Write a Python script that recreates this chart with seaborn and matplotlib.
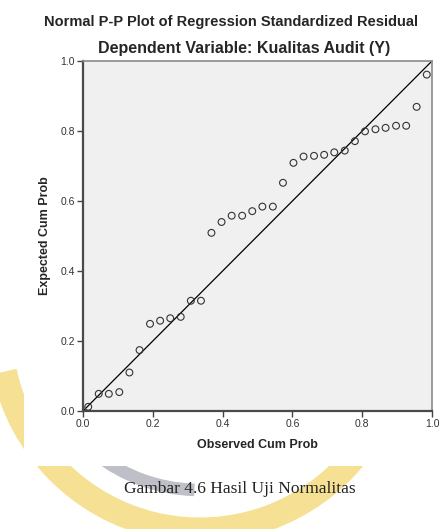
import numpy as np
import pandas as pd
import matplotlib
matplotlib.use('Agg')
import matplotlib.pyplot as plt
from matplotlib.patches import Rectangle, Arc
import seaborn as sns

# 資料：P-P 點 (observed, expected)
observed_cum_prob = [0.015, 0.045, 0.074, 0.104, 0.133, 0.162, 0.192, 0.221,
                     0.250, 0.280, 0.309, 0.338, 0.368, 0.397, 0.426, 0.456,
                     0.485, 0.514, 0.544, 0.573, 0.603, 0.632, 0.662, 0.691,
                     0.720, 0.750, 0.779, 0.808, 0.838, 0.867, 0.897, 0.926,
                     0.956, 0.985]
expected_cum_prob = [0.012, 0.049, 0.049, 0.054, 0.110, 0.174, 0.249, 0.258,
                     0.265, 0.269, 0.315, 0.315, 0.509, 0.540, 0.558, 0.558,
                     0.571, 0.584, 0.584, 0.652, 0.709, 0.727, 0.729, 0.732,
                     0.739, 0.744, 0.771, 0.799, 0.805, 0.809, 0.815, 0.815,
                     0.869, 0.961]
diag = [0.0, 1.0]
ticks = [0.0, 0.2, 0.4, 0.6, 0.8, 1.0]
tick_labels = ['0.0', '0.2', '0.4', '0.6', '0.8', '1.0']

df = pd.DataFrame({'observed': observed_cum_prob, 'expected': expected_cum_prob})

sns.set_style('white')
plt.rcParams['font.family'] = ['Liberation Sans', 'DejaVu Sans']

W, H = 442, 529
fig = plt.figure(figsize=(W / 100, H / 100), dpi=100)
fig.patch.set_facecolor('white')

# 背景浮水印 (黃色彎月 + 灰色陰影)
ax_bg = fig.add_axes([0, 0, 1, 1], zorder=0)
ax_bg.set_xlim(0, W)
ax_bg.set_ylim(H, 0)
ax_bg.axis('off')
ax_bg.add_patch(Arc((200, 330), 400, 400, theta1=38, theta2=168,
                    color='#f3d97a', lw=18, alpha=0.8))
ax_bg.add_patch(Arc((200, 330), 330, 320, theta1=92, theta2=130,
                    color='#6f7283', lw=9, alpha=0.45))
ax_bg.add_patch(Rectangle((24, 0), W - 24, 466, facecolor='white', edgecolor='none'))

# 標題
fig.text(231 / W, 1 - 22 / H, 'Normal P-P Plot of Regression Standardized Residual',
         ha='center', va='center', fontsize=10.5, fontweight='bold', zorder=3)
fig.text(244 / W, 1 - 49 / H, 'Dependent Variable: Kualitas Audit (Y)',
         ha='center', va='center', fontsize=11.5, fontweight='bold', zorder=3)

# 主圖
ax = fig.add_axes([83 / W, 1 - 411 / H, 349 / W, 350 / H], zorder=2)
ax.set_facecolor('#f0f0f0')
ax.axline((diag[0], diag[0]), (diag[1], diag[1]), color='black', lw=0.9, zorder=2)
sns.scatterplot(data=df, x='observed', y='expected', ax=ax, s=24,
                facecolor='none', edgecolor='#333333', linewidth=0.8, zorder=3)
ax.set_xlim(0, 1)
ax.set_ylim(0, 1)
ax.set_xticks(ticks)
ax.set_yticks(ticks)
ax.set_xticklabels(tick_labels)
ax.set_yticklabels(tick_labels)
ax.tick_params(axis='both', direction='out', length=4, width=1, color='#444444',
               labelsize=7.5, labelcolor='#333333', pad=2,
               bottom=True, left=True)
for side in ['left', 'bottom']:
    ax.spines[side].set_color('#4a4a4a')
    ax.spines[side].set_linewidth(1.6)
for side in ['top', 'right']:
    ax.spines[side].set_color('#8a8a8a')
    ax.spines[side].set_linewidth(1.2)
ax.set_xlabel('')
ax.set_ylabel('')

fig.text(45 / W, 1 - 236 / H, 'Expected Cum Prob', rotation=90, ha='center',
         va='center', fontsize=9, fontweight='bold', zorder=3)
fig.text(257 / W, 1 - 445 / H, 'Observed Cum Prob', ha='center', va='center',
         fontsize=9, fontweight='bold', zorder=3)

# 圖說
fig.text(240 / W, 1 - 489 / H, 'Gambar 4.6 Hasil Uji Normalitas', ha='center',
         va='center', fontsize=12.5, family='Liberation Serif', color='#222222', zorder=3)

fig.savefig('out.png', dpi=100)
